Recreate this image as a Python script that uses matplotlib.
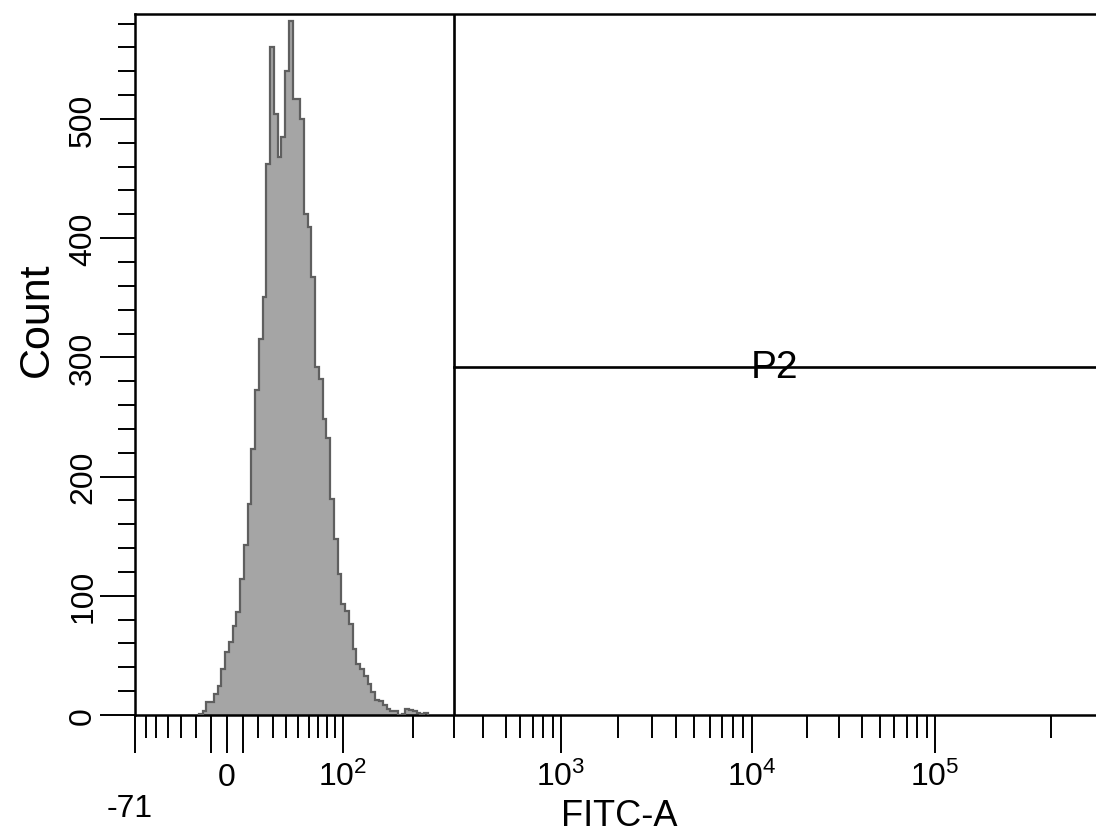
import numpy as np
import matplotlib

matplotlib.use("Agg")
import matplotlib.pyplot as plt

plt.rcParams["font.family"] = ["Liberation Sans", "DejaVu Sans"]
plt.rcParams["mathtext.fontset"] = "custom"
plt.rcParams["mathtext.rm"] = "Liberation Sans"
plt.rcParams["mathtext.it"] = "Liberation Sans"
plt.rcParams["mathtext.default"] = "regular"

# histogram: counts per display channel (256 channels across the axis)
N_CHANNELS = 256
FIRST_CHANNEL = 17
COUNTS = [1, 3, 11, 11, 18, 24, 39, 53, 61, 75, 86, 114, 143, 177, 223, 273,
          315, 351, 462, 560, 504, 468, 485, 540, 582, 517, 517, 500, 420, 409,
          367, 292, 282, 248, 232, 181, 148, 118, 93, 87, 76, 55, 43, 39, 33,
          26, 19, 13, 12, 8, 5, 3, 3, 0, 1, 5, 4, 3, 2, 1, 2]

# biexponential-like display axis (value -> fraction of axis width)
SCALE_VALUES = [-71, 0, 100, 200, 500, 1000, 10000, 100000, 262143]
SCALE_FRACTIONS = [0.0, 0.0957, 0.2164, 0.2893, 0.3861, 0.4433, 0.6420, 0.8325, 1.0]

X_MAJOR = [-71, -10, 0, 10, 100, 1000, 10000, 100000]
X_MAJOR_LABELS = ["", "", "0", "", "$10^{2}$", "$10^{3}$", "$10^{4}$", "$10^{5}$"]
X_MINOR = [-60, -50, -40, -30, -20, 20, 30, 40, 50, 60, 70, 80, 90,
           200, 300, 400, 500, 600, 700, 800, 900,
           2000, 3000, 4000, 5000, 6000, 7000, 8000, 9000,
           20000, 30000, 40000, 50000, 60000, 70000, 80000, 90000, 200000]
Y_MAJOR = [0, 100, 200, 300, 400, 500]
Y_MINOR = [v for v in range(20, 600, 20) if v % 100]
Y_MAX = 588

GATE_LOW = 300
GATE_HIGH = 262143
GATE_LEVEL = 292
GATE_NAME = "P2"


def _g(x):
    return np.arcsinh(np.asarray(x, dtype=float) / 50.0)


G_ANCHORS = _g(SCALE_VALUES)


def forward(x):
    return np.interp(_g(x), G_ANCHORS, SCALE_FRACTIONS)


def inverse(p):
    return 50.0 * np.sinh(np.interp(p, SCALE_FRACTIONS, G_ANCHORS))


fig = plt.figure(figsize=(10.96, 8.37), dpi=100)
ax = fig.add_axes([135 / 1096, 1 - 716 / 837, 961 / 1096, 701 / 837])
ax.set_xscale("function", functions=(forward, inverse))
ax.set_xlim(SCALE_VALUES[0], SCALE_VALUES[-1])
ax.set_ylim(0, Y_MAX)

channels = np.arange(FIRST_CHANNEL, FIRST_CHANNEL + len(COUNTS) + 1) / N_CHANNELS
edges = inverse(channels)
ax.stairs(COUNTS, edges, fill=True, color="#a5a5a5", zorder=2)
ax.stairs(COUNTS, edges, color="#5f5f5f", lw=1.6, zorder=3)

# interval gate
ax.plot([GATE_LOW, GATE_LOW], [0, Y_MAX], color="black", lw=1.9, zorder=4)
ax.plot([GATE_LOW, GATE_HIGH], [GATE_LEVEL, GATE_LEVEL], color="black", lw=1.9, zorder=4)
mid = inverse((forward(GATE_LOW) + forward(GATE_HIGH)) / 2)
ax.text(mid, GATE_LEVEL, GATE_NAME, ha="center", va="center", fontsize=28, zorder=5)

ax.set_xticks(X_MAJOR)
ax.set_xticklabels(X_MAJOR_LABELS)
ax.set_xticks(X_MINOR, minor=True)
ax.set_yticks(Y_MAJOR)
ax.set_yticklabels([str(v) for v in Y_MAJOR])
ax.set_yticks(Y_MINOR, minor=True)

ax.tick_params(axis="x", which="major", direction="out", length=27, width=1.4,
               pad=23.4, labelsize=23)
ax.tick_params(axis="x", which="minor", direction="out", length=16.5, width=1.4)
ax.tick_params(axis="y", which="major", direction="out", length=25, width=1.4,
               pad=1.5, labelsize=23, labelrotation=90)
ax.tick_params(axis="y", which="minor", direction="out", length=12, width=1.4)
for t in ax.xaxis.get_major_ticks():
    t.label1.set_va("baseline")
for t in ax.yaxis.get_major_ticks():
    t.label1.set_va("center")

ax.annotate("-71", xy=(SCALE_VALUES[0], 0), xycoords=("data", "axes fraction"),
            xytext=(-4, -73), textcoords="offset points",
            ha="center", va="baseline", fontsize=23)

ax.set_xlabel("FITC-A", fontsize=26)
ax.xaxis.set_label_coords(0.504, -0.144)
ax.xaxis.label.set_va("center")
ax.set_ylabel("Count", fontsize=31)
ax.yaxis.set_label_coords(-0.102, 0.565)
ax.yaxis.label.set_va("center")

for side in ["left", "bottom", "top"]:
    ax.spines[side].set_linewidth(1.8)
    ax.spines[side].set_color("black")
ax.spines["right"].set_visible(False)

fig.savefig("out.png", dpi=100)
